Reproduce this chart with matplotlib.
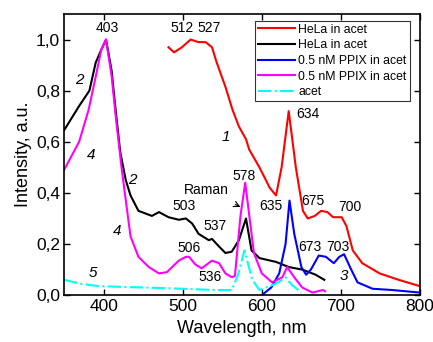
import matplotlib
matplotlib.use("Agg")
import matplotlib.pyplot as plt
from matplotlib.ticker import FuncFormatter, MultipleLocator

plt.rcParams['font.family'] = ['Liberation Sans', 'DejaVu Sans']

# curve 1: HeLa in acet (red)
hela1_x = [482, 489, 499, 510, 520, 529, 537, 543, 554, 563, 571, 580, 584, 597, 610, 618,
           625, 634, 643, 652, 658, 667, 675, 683, 690, 701, 707, 715, 727, 749, 773, 800]
hela1_y = [0.97, 0.95, 0.97, 1.00, 0.99, 0.99, 0.97, 0.91, 0.815, 0.725, 0.66, 0.61, 0.57, 0.50, 0.42, 0.39,
           0.50, 0.72, 0.50, 0.33, 0.30, 0.31, 0.33, 0.325, 0.305, 0.305, 0.27, 0.175, 0.125, 0.085, 0.06, 0.035]

# curve 2: HeLa in acet (black)
hela2_x = [350, 369, 382, 390, 397, 403, 410, 416, 421, 428, 434, 444, 461, 470, 482, 495, 504,
           512, 520, 533, 537, 546, 554, 562, 571, 580, 587, 597, 618, 634, 651, 668, 679]
hela2_y = [0.645, 0.74, 0.80, 0.91, 0.96, 1.00, 0.88, 0.70, 0.56, 0.45, 0.39, 0.33, 0.31, 0.325, 0.305, 0.295, 0.30,
           0.28, 0.24, 0.215, 0.22, 0.19, 0.165, 0.17, 0.215, 0.30, 0.175, 0.145, 0.13, 0.11, 0.10, 0.08, 0.06]

# curve 3: 0.5 nM PPIX in acet (blue)
ppix3_x = [600, 612, 622, 630, 635, 641, 650, 656, 662, 672, 681, 691, 698, 704, 713, 721, 740, 765, 800]
ppix3_y = [0.0, 0.03, 0.085, 0.20, 0.37, 0.24, 0.11, 0.08, 0.10, 0.155, 0.15, 0.125, 0.15, 0.16, 0.10, 0.05,
           0.025, 0.02, 0.01]

# curve 4: 0.5 nM PPIX in acet (magenta)
ppix4_x = [350, 369, 381, 390, 397, 403, 410, 416, 423, 434, 444, 457, 470, 480, 495, 504, 508, 516,
           524, 537, 546, 554, 562, 566, 573, 579, 590, 600, 613, 626, 632, 641, 651, 664, 677, 680]
ppix4_y = [0.49, 0.60, 0.725, 0.855, 0.96, 1.00, 0.86, 0.68, 0.49, 0.23, 0.15, 0.11, 0.085, 0.09, 0.135, 0.15, 0.15, 0.12,
           0.105, 0.135, 0.125, 0.085, 0.07, 0.075, 0.31, 0.44, 0.165, 0.085, 0.05, 0.07, 0.11, 0.07, 0.03, 0.01, 0.02, 0.015]

# curve 5: acet (cyan)
acet_x = [350, 370, 394, 450, 500, 540, 562, 570, 578, 588, 597, 618, 630, 638, 650]
acet_y = [0.06, 0.045, 0.035, 0.03, 0.025, 0.02, 0.02, 0.08, 0.175, 0.06, 0.02, 0.045, 0.07, 0.04, 0.01]

peak_labels = ["403", "512", "527", "634", "503", "537", "506", "536", "578",
               "635", "675", "700", "673", "703"]
peak_pos = [(405, 1.045), (499, 1.045), (533, 1.045), (658, 0.71), (502, 0.35), (541, 0.27),
            (508, 0.185), (535, 0.07), (577, 0.465), (612, 0.35), (665, 0.37), (711, 0.345),
            (661, 0.19), (696, 0.19)]
curve_nums = ["1", "2", "2", "3", "4", "4", "5"]
curve_num_pos = [(555, 0.62), (369, 0.84), (436, 0.45), (704, 0.075), (384, 0.55), (417, 0.25), (387, 0.085)]

fig = plt.figure(figsize=(4.33, 3.42), dpi=100)
ax = fig.add_axes([0.148, 0.137, 0.822, 0.822])

ax.plot(hela1_x, hela1_y, color='red', lw=1.5, label='HeLa in acet')
ax.plot(hela2_x, hela2_y, color='black', lw=1.5, label='HeLa in acet')
ax.plot(ppix3_x, ppix3_y, color='blue', lw=1.5, label='0.5 nM PPIX in acet')
ax.plot(ppix4_x, ppix4_y, color='magenta', lw=1.5, label='0.5 nM PPIX in acet')
ax.plot(acet_x, acet_y, color='cyan', lw=1.5, ls='-.', label='acet')

for txt, (x, y) in zip(peak_labels, peak_pos):
    ax.text(x, y, txt, fontsize=10, ha='center', va='center')
for txt, (x, y) in zip(curve_nums, curve_num_pos):
    ax.text(x, y, txt, fontsize=11, style='italic', ha='center', va='center')

ax.annotate('Raman', xy=(573, 0.345), xytext=(530, 0.41), fontsize=10,
            ha='center', va='center',
            arrowprops=dict(arrowstyle='->', color='black', lw=0.8, shrinkA=7, shrinkB=0))

ax.set_xlim(350, 800)
ax.set_ylim(0, 1.1)
ax.xaxis.set_major_locator(MultipleLocator(100))
ax.yaxis.set_major_locator(MultipleLocator(0.2))
ax.yaxis.set_major_formatter(FuncFormatter(lambda v, p: f"{v:.1f}".replace('.', ',')))
ax.tick_params(direction='in', top=True, right=True, labelsize=12.5, length=4, width=1, pad=3)
for s in ax.spines.values():
    s.set_linewidth(1.2)

ax.set_xlabel('Wavelength, nm', fontsize=13, labelpad=4)
ax.set_ylabel('Intensity, a.u.', fontsize=13, labelpad=3)

leg = ax.legend(loc='upper right', bbox_to_anchor=(0.978, 0.985), fontsize=8.8, frameon=True,
                fancybox=False, edgecolor='black', handlelength=3.0, handletextpad=0.3,
                borderpad=0.25, labelspacing=0.3, borderaxespad=0.2)
leg.get_frame().set_linewidth(0.8)

fig.savefig('out.png', dpi=100)
